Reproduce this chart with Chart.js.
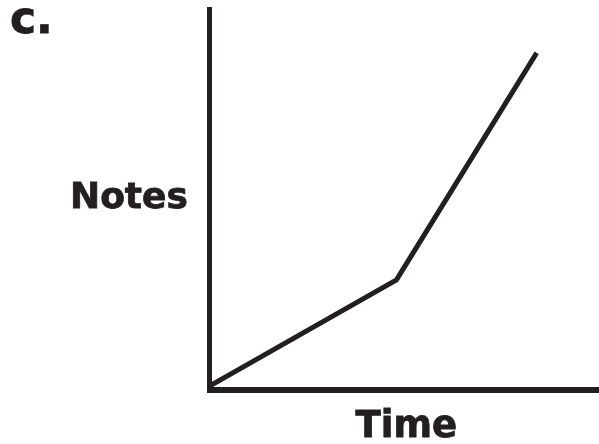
<!DOCTYPE html>
<html>
<head>
<meta charset="utf-8">
<script src="https://cdn.jsdelivr.net/npm/chart.js@4.4.1/dist/chart.umd.min.js"></script>
<style>
  html, body { margin: 0; padding: 0; background: #fff; }
  #wrap { width: 599px; height: 444px; }
</style>
</head>
<body>
<div id="wrap"><canvas id="myChart"></canvas></div>
<script>
// datos (unidades arbitrarias 0-100)
var tiempo = [0, 48, 84];
var notas = [1, 28.9, 88.5];
var etiquetaX = "Time";
var etiquetaY = "Notes";
var letra = "c.";

var tinta = "#231f20";

// textos: la letra del inciso, "Notes" horizontal y "Time" debajo del eje
var textos = {
  id: "textos",
  afterDraw: function (chart) {
    var ctx = chart.ctx;
    var area = chart.chartArea;
    ctx.save();
    ctx.fillStyle = tinta;
    ctx.strokeStyle = tinta;
    ctx.lineWidth = 0.8;
    ctx.textBaseline = "alphabetic";
    ctx.textAlign = "left";
    ctx.font = "bold 44px 'DejaVu Sans'";
    ctx.fillText(letra, 10, 33);
    ctx.strokeText(letra, 10, 33);
    ctx.font = "bold 36px 'DejaVu Sans'";
    ctx.fillText(etiquetaY, 70, 208);
    ctx.strokeText(etiquetaY, 70, 208);
    ctx.textAlign = "center";
    ctx.font = "bold 37px 'DejaVu Sans'";
    var cx = (area.left + area.right) / 2 + 2;
    ctx.fillText(etiquetaX, cx, 437);
    ctx.strokeText(etiquetaX, cx, 437);
    ctx.restore();
  }
};

var graficar = document.getElementById("myChart").getContext("2d");
var myChart = new Chart(graficar, {
  type: "line",
  data: {
    datasets: [
      {
        data: tiempo.map(function (t, i) { return { x: t, y: notas[i] }; }),
        borderColor: tinta,
        borderWidth: 5,
        pointRadius: 0,
        tension: 0,
        fill: false,
        borderCapStyle: "butt",
        borderJoinStyle: "miter",
      },
    ],
  },
  options: {
    responsive: true,
    maintainAspectRatio: false,
    animation: false,
    layout: { padding: { top: 9, left: 0, right: 0, bottom: 0 } },
    plugins: { legend: { display: false }, tooltip: { enabled: false } },
    scales: {
      x: {
        type: "linear",
        min: 0,
        max: 100,
        grid: { display: false },
        ticks: { display: false },
        border: { display: true, color: tinta, width: 6 },
        afterFit: function (s) { s.height = 54; },
      },
      y: {
        min: 0,
        max: 100,
        grid: { display: false },
        ticks: { display: false },
        border: { display: true, color: tinta, width: 5 },
        afterFit: function (s) { s.width = 209.5; },
      },
    },
  },
  plugins: [textos],
});
</script>
</body>
</html>
